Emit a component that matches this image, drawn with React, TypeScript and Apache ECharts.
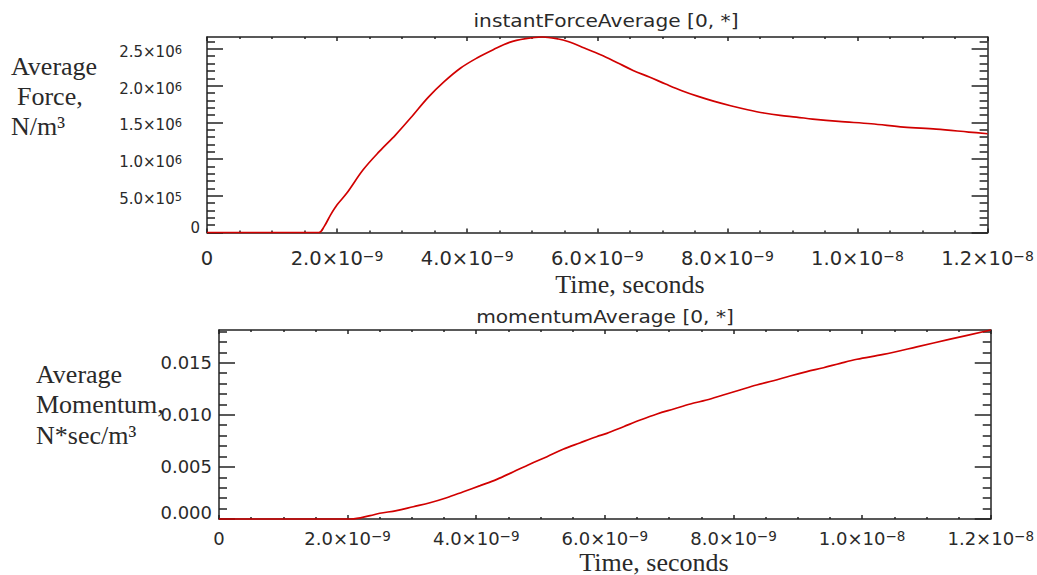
import React, { useEffect, useRef } from 'react';
import * as echarts from 'echarts';

// ---- data ----
const forceTime = [
  0, 1.72e-9, 1.8e-9, 1.9e-9, 2.0e-9, 2.15e-9, 2.4e-9, 2.65e-9, 2.9e-9, 3.15e-9, 3.4e-9,
  3.65e-9, 3.9e-9, 4.15e-9, 4.4e-9, 4.65e-9, 4.9e-9, 5.15e-9, 5.4e-9, 5.55e-9, 5.8e-9,
  6.05e-9, 6.3e-9, 6.55e-9, 6.8e-9, 7.05e-9, 7.3e-9, 7.55e-9, 7.8e-9, 8.05e-9, 8.31e-9,
  8.56e-9, 8.81e-9, 9.06e-9, 9.31e-9, 9.71e-9, 1.021e-8, 1.071e-8, 1.121e-8, 1.171e-8, 1.2e-8,
];
const forceValue = [
  0, 0, 0.08e6, 0.24e6, 0.377e6, 0.537e6, 0.854e6, 1.104e6, 1.33e6, 1.58e6, 1.84e6,
  2.057e6, 2.24e6, 2.376e6, 2.489e6, 2.589e6, 2.639e6, 2.662e6, 2.635e6, 2.6e6, 2.512e6,
  2.421e6, 2.316e6, 2.207e6, 2.117e6, 2.022e6, 1.931e6, 1.853e6, 1.785e6, 1.726e6, 1.672e6,
  1.627e6, 1.594e6, 1.572e6, 1.545e6, 1.512e6, 1.481e6, 1.436e6, 1.408e6, 1.368e6, 1.345e6,
];
const momentumTime = [
  0, 2.05e-9, 2.35e-9, 2.5e-9, 2.76e-9, 3.02e-9, 3.28e-9, 3.54e-9, 3.8e-9, 4.06e-9, 4.32e-9,
  4.58e-9, 4.84e-9, 5.1e-9, 5.35e-9, 5.61e-9, 5.87e-9, 6.03e-9, 6.29e-9, 6.55e-9, 6.81e-9,
  7.07e-9, 7.33e-9, 7.58e-9, 7.84e-9, 8.1e-9, 8.36e-9, 8.62e-9, 8.88e-9, 9.14e-9, 9.4e-9,
  9.66e-9, 9.92e-9, 1.033e-8, 1.085e-8, 1.137e-8, 1.2e-8,
];
const momentumValue = [
  0, 0, 0.00032, 0.00055, 0.0008, 0.00118, 0.00156, 0.00204, 0.00262, 0.0032, 0.0038,
  0.00454, 0.00528, 0.00598, 0.00669, 0.0073, 0.0079, 0.00822, 0.00886, 0.0095, 0.01008,
  0.01056, 0.01104, 0.01142, 0.0119, 0.01238, 0.01286, 0.01327, 0.01372, 0.01414, 0.01452,
  0.01494, 0.01533, 0.0158, 0.01652, 0.01726, 0.01814,
];
const timeTicks = [0, 2e-9, 4e-9, 6e-9, 8e-9, 1e-8, 1.2e-8];
const forceTicks = [0, 5e5, 1e6, 1.5e6, 2e6, 2.5e6];
const momentumTicks = [0, 0.005, 0.01, 0.015];
const TIME_MAX = 1.2e-8;
const FORCE_MAX = 2.662e6;
const MOMENTUM_MAX = 0.01814;
const forceTitle = 'instantForceAverage [0, *]';
const momentumTitle = 'momentumAverage [0, *]';
const timeLabel = 'Time, seconds';

// ---- helpers ----
const AX = '#222';
const TXT = '#2a2a2a';
const SANS = '"DejaVu Sans", sans-serif';
const SERIF = '"Liberation Serif", "Times New Roman", serif';

function subdivide(ticks: number[], n: number, max: number): number[] {
  const out: number[] = [];
  const step = (ticks[1] - ticks[0]) / n;
  for (let i = 0; i < ticks.length - 1; i++) {
    for (let k = 1; k < n; k++) out.push(ticks[i] + ((ticks[i + 1] - ticks[i]) * k) / n);
  }
  let v = ticks[ticks.length - 1] + step;
  while (v < max - step * 0.01) {
    out.push(v);
    v += step;
  }
  return out;
}

function sci(v: number) {
  const e = Math.floor(Math.log10(Math.abs(v)) + 1e-9);
  const m = (v / Math.pow(10, e)).toFixed(1);
  return { m, e: String(e).replace('-', '−') };
}

const line = { color: AX, width: 1.5 };

function xAxesFor(gridIndex: number, labelSize: number, supSize: number, margin: number) {
  const minor = subdivide(timeTicks, 4, TIME_MAX);
  const base = { type: 'value', gridIndex, min: 0, max: TIME_MAX, splitLine: { show: false } };
  return [
    {
      ...base,
      position: 'bottom',
      axisLine: { show: true, onZero: false, lineStyle: line },
      axisTick: { show: true, inside: true, length: 4, customValues: timeTicks, lineStyle: line },
      axisLabel: {
        show: true,
        customValues: timeTicks,
        margin,
        formatter: (v: number) => {
          if (v === 0) return '{b|0}';
          const s = sci(v);
          return `{b|${s.m}×10}{s|${s.e}}`;
        },
        rich: {
          b: { fontSize: labelSize, lineHeight: labelSize, fontFamily: SANS, color: TXT },
          s: { fontSize: supSize, lineHeight: 8, verticalAlign: 'top', fontFamily: SANS, color: TXT },
        },
      },
    },
    {
      ...base,
      position: 'bottom',
      axisLine: { show: false, onZero: false },
      axisTick: { show: true, inside: true, length: 2, customValues: minor, lineStyle: line },
      axisLabel: { show: false },
    },
    {
      ...base,
      position: 'top',
      axisLine: { show: true, onZero: false, lineStyle: line },
      axisTick: { show: true, inside: true, length: 4, customValues: timeTicks, lineStyle: line },
      axisLabel: { show: false },
    },
    {
      ...base,
      position: 'top',
      axisLine: { show: false, onZero: false },
      axisTick: { show: true, inside: true, length: 2, customValues: minor, lineStyle: line },
      axisLabel: { show: false },
    },
  ];
}

function yAxesFor(gridIndex: number, ticks: number[], max: number, labelCfg: any) {
  const minor = subdivide(ticks, 5, max);
  const base = { type: 'value', gridIndex, min: 0, max, splitLine: { show: false } };
  return [
    {
      ...base,
      position: 'left',
      axisLine: { show: true, onZero: false, lineStyle: line },
      axisTick: { show: true, inside: true, length: 16, customValues: ticks, lineStyle: line },
      axisLabel: { show: true, customValues: ticks, margin: 7, ...labelCfg },
    },
    {
      ...base,
      position: 'left',
      axisLine: { show: false, onZero: false },
      axisTick: { show: true, inside: true, length: 8, customValues: minor, lineStyle: line },
      axisLabel: { show: false },
    },
    {
      ...base,
      position: 'right',
      axisLine: { show: true, onZero: false, lineStyle: line },
      axisTick: { show: true, inside: true, length: 16, customValues: ticks, lineStyle: line },
      axisLabel: { show: false },
    },
    {
      ...base,
      position: 'right',
      axisLine: { show: false, onZero: false },
      axisTick: { show: true, inside: true, length: 8, customValues: minor, lineStyle: line },
      axisLabel: { show: false },
    },
  ];
}

const forceLabelCfg = {
  formatter: (v: number) => {
    if (v === 0) return '{z|0}\n{sp| }';
    const s = sci(v);
    return `{d| }\n{b|${s.m}×10}{s|${s.e}}{g| }`;
  },
  rich: {
    z: { fontSize: 15, lineHeight: 16, fontFamily: SANS, color: TXT },
    sp: { fontSize: 1, lineHeight: 10 },
    d: { fontSize: 1, lineHeight: 6 },
    b: { fontSize: 15, lineHeight: 16, fontFamily: SANS, color: TXT },
    s: { fontSize: 11.5, lineHeight: 6, verticalAlign: 'top', fontFamily: SANS, color: TXT },
    g: { width: 18, fontSize: 1 },
  },
};

const momentumLabelCfg = {
  formatter: (v: number) => {
    if (v === 0) return '{z|0.000}\n{sp| }';
    return `{b|${v.toFixed(3)}}`;
  },
  rich: {
    z: { fontSize: 18, lineHeight: 19, fontFamily: SANS, color: TXT },
    sp: { fontSize: 1, lineHeight: 14 },
    b: { fontSize: 18, lineHeight: 19, fontFamily: SANS, color: TXT },
  },
};

function txt(text: string, x: number, y: number, font: string, align = 'left', scaleX = 1) {
  return {
    type: 'text',
    x,
    y,
    scaleX,
    silent: true,
    style: {
      text,
      font,
      fill: TXT,
      align,
      textAlign: align,
      verticalAlign: 'middle',
      textVerticalAlign: 'middle',
    },
  };
}

export default function App() {
  const ref = useRef<HTMLDivElement>(null);
  useEffect(() => {
    if (!ref.current) return;
    const chart = echarts.init(ref.current, undefined, { renderer: 'svg' });
    const serif = `26px ${SERIF}`;
    const option: any = {
      animation: false,
      backgroundColor: '#ffffff',
      grid: [
        { left: 207, top: 37, width: 799, height: 195.5 },
        { left: 219, top: 330, width: 772, height: 189 },
      ],
      xAxis: [...xAxesFor(0, 19.5, 14, 16), ...xAxesFor(1, 18, 13.5, 10)],
      yAxis: [
        ...yAxesFor(0, forceTicks, FORCE_MAX, forceLabelCfg),
        ...yAxesFor(1, momentumTicks, MOMENTUM_MAX, momentumLabelCfg),
      ],
      series: [
        {
          type: 'line',
          xAxisIndex: 0,
          yAxisIndex: 0,
          data: forceTime.map((t, i) => [t, forceValue[i]]),
          showSymbol: false,
          smooth: 0.35,
          clip: false,
          lineStyle: { color: '#d10000', width: 1.7 },
        },
        {
          type: 'line',
          xAxisIndex: 4,
          yAxisIndex: 4,
          data: momentumTime.map((t, i) => [t, momentumValue[i]]),
          showSymbol: false,
          smooth: 0.35,
          clip: false,
          lineStyle: { color: '#d10000', width: 1.7 },
        },
      ],
      graphic: [
        txt(forceTitle, 606, 21, `18px ${SANS}`, 'center', 1.12),
        txt(momentumTitle, 605, 317, `18px ${SANS}`, 'center', 1.12),
        txt('Average', 11, 66, serif),
        txt('Force,', 17, 96, serif),
        txt('N/m³', 11, 126, serif),
        txt(timeLabel, 630, 284, serif, 'center'),
        txt('Average', 36, 374, serif),
        txt('Momentum,', 36, 404, serif),
        txt('N*sec/m³', 36, 435, serif),
        txt(timeLabel, 654, 562, serif, 'center'),
      ],
    };
    chart.setOption(option);
    return () => chart.dispose();
  }, []);
  return (
    <div
      ref={ref}
      style={{ position: 'absolute', left: 0, top: 0, width: 1037, height: 575, background: '#fff' }}
    />
  );
}
